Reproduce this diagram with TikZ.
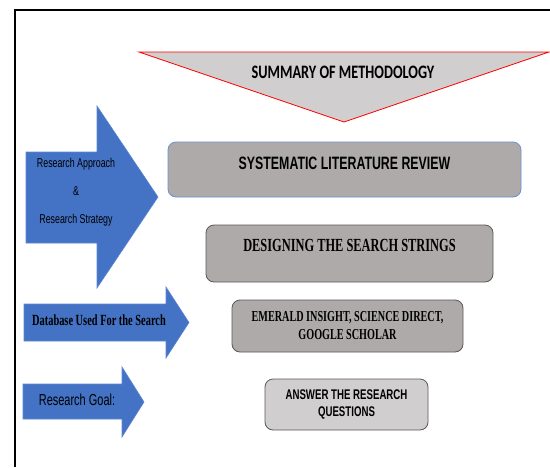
\documentclass[tikz,border=0pt]{standalone}
\usepackage{fontspec}
\newfontfamily\calibfont[FakeStretch=0.75]{Carlito}
\newfontfamily\narrowfont[FakeStretch=0.69]{Liberation Sans}
\newfontfamily\timesfont[FakeStretch=0.67]{Liberation Serif}
\definecolor{arrowblue}{HTML}{4472C4}
\definecolor{arrowedge}{HTML}{5B86D2}
\definecolor{boxgray}{HTML}{AEAAAA}
\definecolor{palegray}{HTML}{D0CECE}
\definecolor{boxedge}{HTML}{595959}
\definecolor{slredge}{HTML}{6C8FD5}
\tikzset{
  stepbox/.style={draw=boxedge, fill=boxgray, rounded corners=8pt, line width=0.8pt, inner sep=0pt, align=center},
  arrowtext/.style={align=center, text=black},
}
\begin{document}
\begin{tikzpicture}[x=1pt, y=-1pt]
  \useasboundingbox (0,0) rectangle (550,467);
  \draw[line width=2pt] (15,467) -- (15,10) -- (550,10);
  % heading
  \draw[red, fill=palegray, line width=0.8pt] (139,52) -- (549,52) -- (344,122) -- cycle;
  \node (summary) at (343,72) {\calibfont\bfseries\fontsize{19}{19}\selectfont SUMMARY OF METHODOLOGY};
  % blue arrows on the left
  \foreach \l/\t/\b/\h/\ht/\hb/\tx in {26/152/243/97/106/288/158, 24/304/341/166/287/358/189, 23/384/419/122/367/437/144}
    \draw[fill=arrowblue, draw=arrowedge, line width=0.6pt] (\l,\t) -- (\h,\t) -- (\h,\ht) -- (\tx,{(\ht+\hb)/2}) -- (\h,\hb) -- (\h,\b) -- (\l,\b) -- cycle;
  \node[arrowtext, font=\narrowfont\fontsize{12.8}{28}\selectfont] (approachtxt) at (76,192) {Research Approach\\\&\\Research Strategy};
  \node[arrowtext, font=\timesfont\bfseries\fontsize{15.5}{18}\selectfont] (dbtxt) at (99,320) {Database Used For the Search};
  \node[arrowtext, font=\narrowfont\fontsize{15.9}{18}\selectfont] (goaltxt) at (77,400) {Research Goal:};
  % steps
  \node[stepbox, draw=slredge, minimum width=353pt, minimum height=55pt, text depth=13pt,
        font=\narrowfont\bfseries\fontsize{17.9}{20}\selectfont] (slr) at (344.5,169.5) {SYSTEMATIC LITERATURE REVIEW};
  \node[stepbox, minimum width=287pt, minimum height=57pt, text depth=17pt,
        font=\timesfont\bfseries\fontsize{18.5}{20}\selectfont] (strings) at (349.5,253.5) {DESIGNING THE SEARCH STRINGS};
  \node[stepbox, minimum width=231pt, minimum height=52pt,
        font=\timesfont\bfseries\fontsize{15.2}{18}\selectfont] (databases) at (347.5,326) {EMERALD INSIGHT, SCIENCE DIRECT,\\GOOGLE SCHOLAR};
  \node[stepbox, fill=palegray, minimum width=163pt, minimum height=51pt,
        font=\narrowfont\bfseries\fontsize{14}{17}\selectfont] (questions) at (346.5,404.5) {ANSWER THE RESEARCH\\QUESTIONS};
\end{tikzpicture}
\end{document}
